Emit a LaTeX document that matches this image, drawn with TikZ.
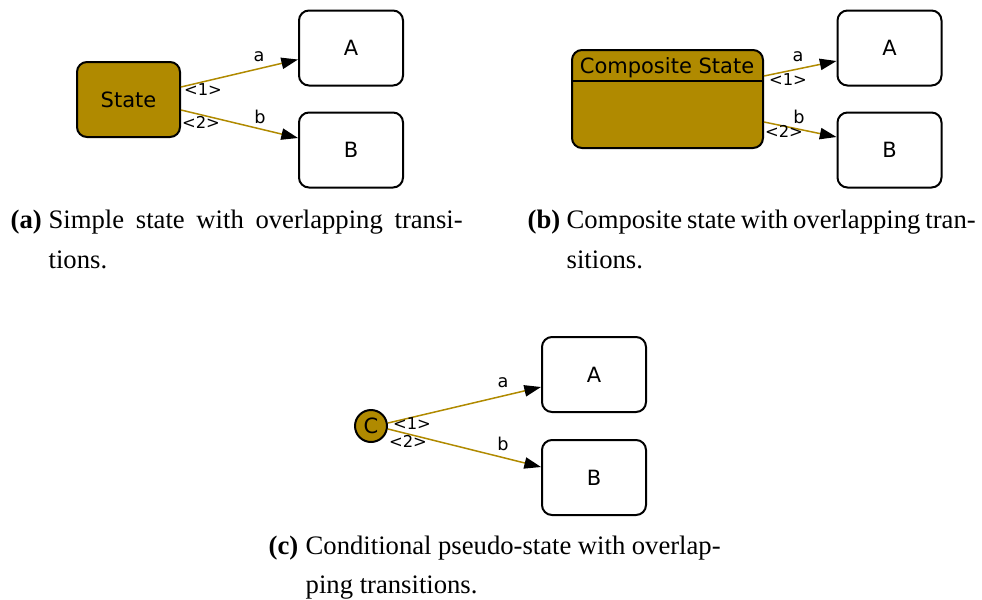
\documentclass[tikz,border=0pt]{standalone}
\usepackage{fontspec}
\setmainfont{Liberation Serif}
\newfontfamily\diafont{DejaVu Sans}
\usetikzlibrary{arrows.meta,calc}
\definecolor{gold}{RGB}{176,138,0}
\tikzset{
  statebox/.style={draw=black, line width=0.6pt, rounded corners=3pt, inner sep=0pt, font=\diafont\fontsize{6.3}{7}\selectfont},
  target/.style={statebox, fill=white, minimum width=31.2pt, minimum height=22.5pt},
  trans/.style={draw=gold, line width=0.45pt, -{Triangle[length=5pt,width=3.4pt,black]}},
  elab/.style={inner sep=0pt, font=\diafont\fontsize{5.3}{6}\selectfont},
  plab/.style={inner sep=0pt, font=\diafont\fontsize{4.9}{6}\selectfont},
  capt/.style={inner sep=0pt, anchor=base west, font=\fontsize{8}{10}\selectfont},
}
\begin{document}
\begin{tikzpicture}[x=0.3pt,y=-0.3pt]
\useasboundingbox (0,0) rectangle (982,599);
% (a)
\node[statebox, fill=gold, minimum width=30.9pt, minimum height=22.5pt] (s) at (128.5,99.5) {State};
\node[target] (a1) at (351,48) {A};
\node[target] (b1) at (351,150) {B};
\draw[trans] ([yshift=3.75pt]s.east) -- ([yshift=-3.45pt]a1.west);
\draw[trans] ([yshift=-3.15pt]s.east) -- ([yshift=3.6pt]b1.west);
\node[elab] (la1) at (259,57) {a};
\node[plab] (p11) at (203,90) {<1>};
\node[elab] (lb1) at (260,117) {b};
\node[plab] (p21) at (201,122) {<2>};
% (b)
\node[statebox, fill=gold, minimum width=57.3pt, minimum height=29.4pt] (c) at (667.5,99) {};
\coordinate (hdr) at (667.5,81);
\draw[line width=0.6pt] (c.west |- hdr) -- (c.east |- hdr);
\node[inner sep=0pt, font=\diafont\fontsize{6.3}{7}\selectfont] (ct) at (667,68) {Composite State};
\node[target] (a2) at (889.5,48) {A};
\node[target] (b2) at (889.5,150) {B};
\draw[trans] ([yshift=6.9pt]c.east) -- ([yshift=-3.9pt]a2.west);
\draw[trans] ([yshift=-6.9pt]c.east) -- ([yshift=3.9pt]b2.west);
\node[elab] (la2) at (798,57) {a};
\node[plab] (p12) at (788,80) {<1>};
\node[elab] (lb2) at (799,117) {b};
\node[plab] (p22) at (784,131) {<2>};
% (c)
\node[circle, draw=black, line width=0.6pt, fill=gold, minimum size=9.6pt, inner sep=0pt, font=\diafont\fontsize{6.3}{7}\selectfont] (k) at (371,426) {C};
\node[target] (a3) at (594,374.5) {A};
\node[target] (b3) at (594,477.5) {B};
\draw[trans] ([yshift=0.9pt]k.east) -- ([yshift=-3.75pt]a3.west);
\draw[trans] ([yshift=-0.9pt]k.east) -- ([yshift=3.15pt]b3.west);
\node[elab] (la3) at (503,383) {a};
\node[plab] (p13) at (412,424) {<1>};
\node[elab] (lb3) at (503,444) {b};
\node[plab] (p23) at (408,441) {<2>};
% captions
\node[capt] (ca) at (10,228) {\textbf{(a)}};
\node[capt] (cat1) at (48,228) {\hbox to 124.2pt{Simple\hfill state\hfill with\hfill overlapping\hfill transi-}};
\node[capt] (cat2) at (48,268) {tions.};
\node[capt] (cb) at (527,228) {\textbf{(b)}};
\node[capt] (cbt1) at (566,228) {\hbox to 122.7pt{Composite\hfill state\hfill with\hfill overlapping\hfill tran-}};
\node[capt] (cbt2) at (566,268) {sitions.};
\node[capt] (cc) at (268,554) {\textbf{(c)}};
\node[capt] (cct1) at (305,554) {\hbox to 124.5pt{Conditional\hfill pseudo-state\hfill with\hfill overlap-}};
\node[capt] (cct2) at (305,593) {ping transitions.};
\end{tikzpicture}
\end{document}
